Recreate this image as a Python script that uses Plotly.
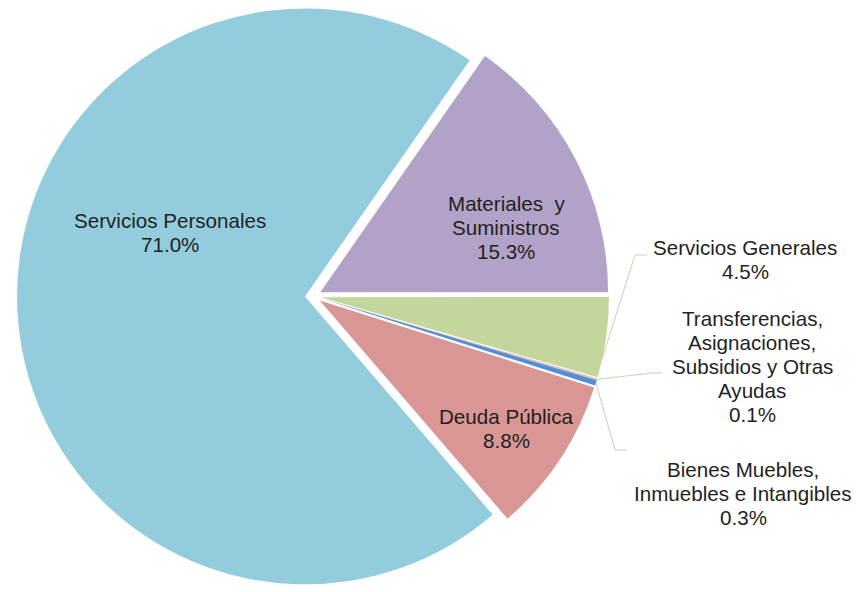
import math
import plotly.graph_objects as go

# ---- data ----
categories = [
    "Servicios Personales",
    "Materiales y Suministros",
    "Servicios Generales",
    "Transferencias, Asignaciones, Subsidios y Otras Ayudas",
    "Bienes Muebles, Inmuebles e Intangibles",
    "Deuda Pública",
]
label_lines = [
    ["Servicios Personales"],
    ["Materiales  y", "Suministros"],
    ["Servicios Generales"],
    ["Transferencias,", "Asignaciones,", "Subsidios y Otras", "Ayudas"],
    ["Bienes Muebles,", "Inmuebles e Intangibles"],
    ["Deuda Pública"],
]
values = [71.0, 15.3, 4.5, 0.1, 0.3, 8.8]
colors = ["#93CDDD", "#B3A2C7", "#C3D69B", "#E6B9B8", "#558ED5", "#D99694"]

# ---- layout / style ----
W, H = 856, 592
pull = 0.028
rotation = 139.3
dom_x = [0.0199, 0.7115]
dom_y = [0.0, 1.0]
font_family = "Arial, Liberation Sans, sans-serif"
font_size = 20.6
line_gap = 24
text_color = "#1F1F1F"
leader_color = "#C9D1B2"

# label centres (pixels) and leader-line bends (pixels)
label_pos = [(170, 233), (506, 227), (745, 259), (752, 366), (743, 493), (506, 428)]
leader = {
    2: {"pts": [(647, 255), (635, 255)], "frac": 0.75},
    3: {"pts": [(662, 373), (652, 373)], "frac": 0.5},
    4: {"pts": [(627, 450), (615, 450)], "frac": 0.5},
}

fig = go.Figure(
    go.Pie(
        labels=categories,
        values=values,
        sort=False,
        direction="clockwise",
        rotation=rotation,
        pull=[pull] * len(values),
        marker=dict(colors=colors, line=dict(width=0)),
        textinfo="none",
        hoverinfo="label+percent",
        domain=dict(x=dom_x, y=dom_y),
        showlegend=False,
    )
)

# pie geometry (same formulas as plotly.js)
box_w = W * (dom_x[1] - dom_x[0])
box_h = H * (dom_y[1] - dom_y[0])
r = min(box_w, box_h) / (2 + 2 * pull)
cx = W * (dom_x[0] + dom_x[1]) / 2
cy = H * (1 - dom_y[0]) - box_h / 2
total = sum(values)


def px2paper(x, y):
    return x / W, 1 - y / H


annotations = []
shapes = []
ang = math.radians(rotation)
for i, v in enumerate(values):
    span = 2 * math.pi * v / total
    a0, a1 = ang, ang + span
    mid = (a0 + a1) / 2
    lx, ly = label_pos[i]
    pct = f"{v / total * 100:.1f}%"
    lines = label_lines[i] + [pct]
    n = len(lines)
    for k, t in enumerate(lines):
        yy = ly + (k - (n - 1) / 2) * line_gap
        ax, ay = px2paper(lx, yy)
        annotations.append(
            dict(
                x=ax, y=ay, xref="paper", yref="paper",
                text=t.replace("  ", "&nbsp; "),
                showarrow=False, xanchor="center", yanchor="middle", align="center",
                font=dict(family=font_family, size=font_size, color=text_color),
            )
        )
    if i in leader:
        a = a0 + span * leader[i]["frac"]
        ox = cx + pull * r * math.sin(mid)
        oy = cy - pull * r * math.cos(mid)
        ex = ox + r * math.sin(a)
        ey = oy - r * math.cos(a)
        pts = leader[i]["pts"] + [(ex, ey)]
        path = ""
        for k, (x, y) in enumerate(pts):
            px_, py_ = px2paper(x, y)
            path += ("M" if k == 0 else " L") + f" {px_:.5f} {py_:.5f}"
        shapes.append(
            dict(type="path", path=path, xref="paper", yref="paper",
                 line=dict(color=leader_color, width=1))
        )
    ang = a1

fig.update_layout(
    width=W,
    height=H,
    margin=dict(l=0, r=0, t=0, b=0),
    paper_bgcolor="white",
    plot_bgcolor="white",
    annotations=annotations,
    shapes=shapes,
    font=dict(family=font_family, color=text_color),
)

fig.write_html(
    "out.html",
    config={"displayModeBar": False},
    post_script="document.body.style.margin='0';document.body.style.overflow='hidden';",
)
